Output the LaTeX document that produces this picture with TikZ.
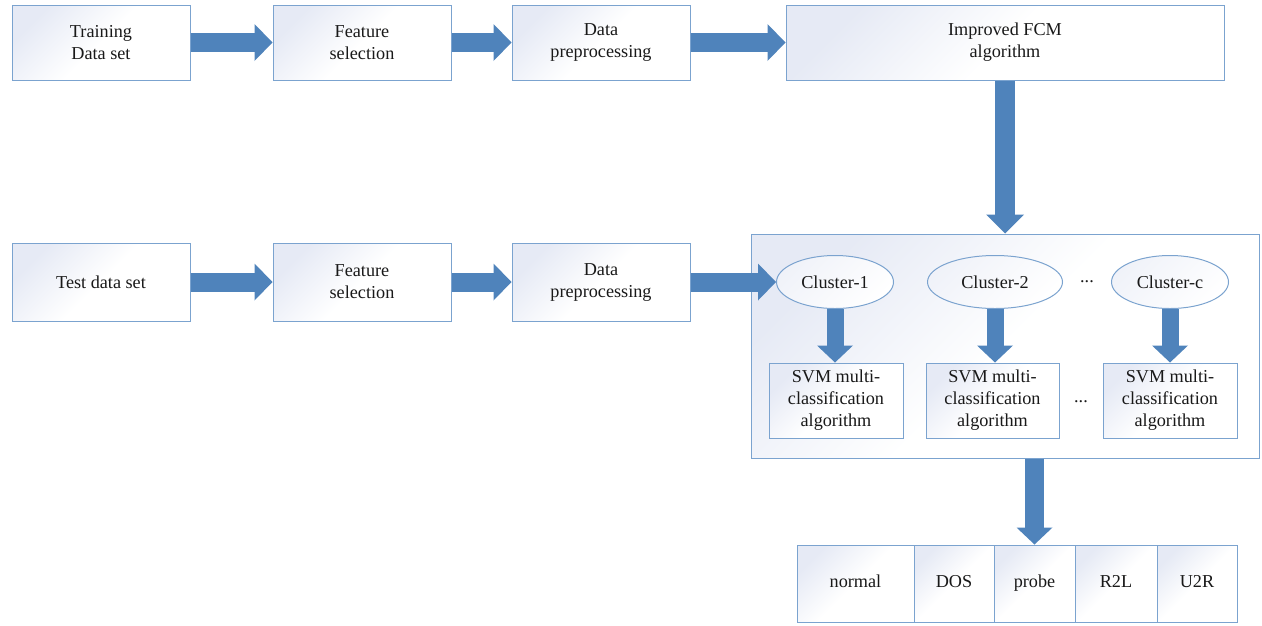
\documentclass[tikz,border=0pt]{standalone}
\usepackage{fontspec}
\setmainfont{Liberation Serif}
\usetikzlibrary{shapes.geometric,arrows.meta,calc}
\definecolor{edgeblue}{HTML}{7BA3CF}
\definecolor{shadetop}{HTML}{E6EAF5}
\definecolor{arrowfill}{HTML}{4F83BB}
\begin{document}
\begin{tikzpicture}[x=1pt,y=-1pt,
  every node/.style={font=\fontsize{18.2}{22}\selectfont, text=black!90},
  box/.style={draw=edgeblue, line width=1pt, top color=shadetop, bottom color=white, middle color=white, shading angle=45,
    inner sep=0pt, align=center},
  oval/.style={ellipse, draw=edgeblue, line width=1pt, top color=shadetop!60, bottom color=white, shading angle=45,
    inner sep=0pt, align=center, minimum height=53pt},
  cell/.style={box, minimum height=77pt, text height=12.5pt, text depth=4pt},
  blk/.style={draw=arrowfill, line width=#1, line cap=butt},
  harrow/.style={blk=19pt, -{Triangle[width=37pt,length=18pt,line width=0pt]}},
  varrow/.style={blk=17pt, -{Triangle[width=36pt,length=17pt,line width=0pt]}},
]
\useasboundingbox (0,0) rectangle (1262,625);

% row 1
\node[box, minimum width=178pt, minimum height=75pt] (b1) at (101,42.5) {Training\\Data set};
\node[box, minimum width=178pt, minimum height=75pt] (b2) at (362,42.5) {Feature\\selection};
\node[box, minimum width=178pt, minimum height=75pt] (b3) at (601,42.5) {Data\\preprocessing};
\node[box, minimum width=438pt, minimum height=75pt] (b4) at (1005,42.5) {Improved FCM\\algorithm};

% row 2
\node[box, minimum width=178pt, minimum height=78pt] (t1) at (101,282) {Test data set};
\node[box, minimum width=178pt, minimum height=78pt] (t2) at (362,282) {Feature\\selection};
\node[box, minimum width=178pt, minimum height=78pt] (t3) at (601,282) {Data\\preprocessing};

% container
\node[box, minimum width=508pt, minimum height=224pt] (cont) at (1005,346) {};

\node[oval, minimum width=117pt] (c1) at (835,282) {Cluster-1};
\node[oval, minimum width=135pt] (c2) at (995,282) {Cluster-2};
\node[oval, minimum width=117pt] (c3) at (1170,282) {Cluster-c};
\node (d1) at (1087,282) {...};

\node[box, minimum width=134pt, minimum height=75pt] (s1) at (836,400.5) {SVM multi-\\classification\\algorithm};
\node[box, minimum width=133pt, minimum height=75pt] (s2) at (992.5,400.5) {SVM multi-\\classification\\algorithm};
\node[box, minimum width=134pt, minimum height=75pt] (s3) at (1170,400.5) {SVM multi-\\classification\\algorithm};
\node (d2) at (1081,402) {...};

% bottom row
\node[cell, minimum width=117pt] (r1) at (855.5,583.5) {normal};
\node[cell, minimum width=80pt] (r2) at (954,583.5) {DOS};
\node[cell, minimum width=81pt] (r3) at (1034.5,583.5) {probe};
\node[cell, minimum width=82pt] (r4) at (1116,583.5) {R2L};
\node[cell, minimum width=80pt] (r5) at (1197,583.5) {U2R};

% arrows
\draw[harrow] (b1.east) -- (b2.west);
\draw[harrow] (b2.east) -- (b3.west);
\draw[harrow] (b3.east) -- (b4.west);
\draw[harrow] (t1.east) -- (t2.west);
\draw[harrow] (t2.east) -- (t3.west);
\draw[harrow] (t3.east) -- (c1.west);
\draw[blk=20pt, -{Triangle[width=38pt,length=19pt,line width=0pt]}] (b4.south) -- (cont.north);
\draw[varrow] (c1.south) -- (c1.south |- s1.north);
\draw[varrow] (c2.south) -- (c2.south |- s2.north);
\draw[varrow] (c3.south) -- (c3.south |- s3.north);
\draw[blk=19pt, -{Triangle[width=36pt,length=17pt,line width=0pt]}] (cont.south -| r3.north) -- (r3.north);
\end{tikzpicture}
\end{document}
